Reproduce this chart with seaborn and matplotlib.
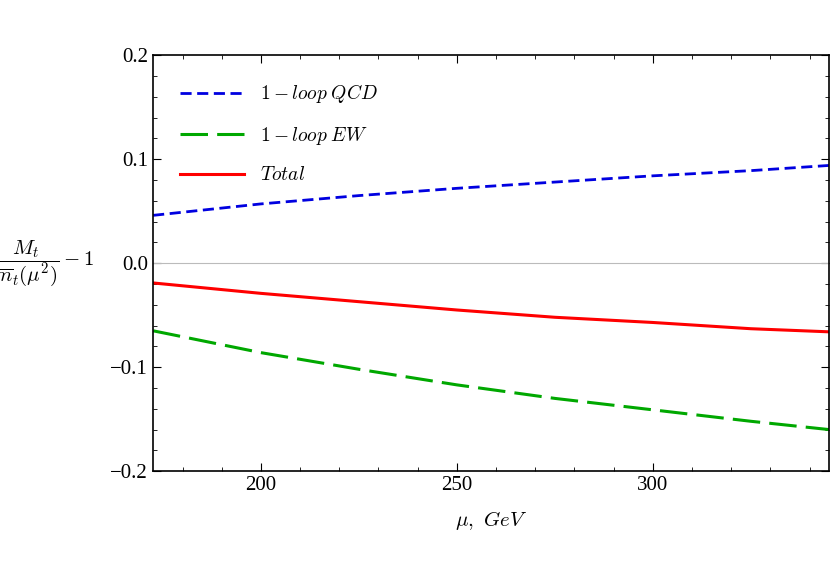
import numpy as np
import pandas as pd
import matplotlib
matplotlib.use("Agg")
import matplotlib.pyplot as plt
import seaborn as sns
from matplotlib.ticker import MultipleLocator

plt.rcParams["mathtext.fontset"] = "cm"
plt.rcParams["font.family"] = "Liberation Serif"

mu = [172.5, 200, 225, 250, 275, 300, 325, 345]
qcd = [0.046, 0.057, 0.065, 0.072, 0.078, 0.084, 0.089, 0.094]
ew = [-0.065, -0.086, -0.102, -0.117, -0.130, -0.141, -0.152, -0.160]
total = [-0.019, -0.029, -0.037, -0.045, -0.052, -0.057, -0.063, -0.066]

df = pd.DataFrame({"mu": mu, "qcd": qcd, "ew": ew, "total": total})

fig = plt.figure(figsize=(8.3, 5.81), dpi=100)
ax = fig.add_axes([0.184, 0.189, 0.815, 0.716])

ax.axhline(0, color="#bbbbbb", lw=0.8)
sns.lineplot(data=df, x="mu", y="qcd", ax=ax, color="#0000e0", lw=2,
             label=r"$1-loop\;QCD$").lines[-1].set_dashes([4, 2])
sns.lineplot(data=df, x="mu", y="ew", ax=ax, color="#00a800", lw=2.2,
             label=r"$1-loop\;EW$").lines[-1].set_dashes([9, 3])
sns.lineplot(data=df, x="mu", y="total", ax=ax, color="#ff0000", lw=2.2,
             label=r"$Total$")

ax.set_xlim(172.4, 345)
ax.set_ylim(-0.2, 0.2)
ax.set_xticks([200, 250, 300])
ax.set_yticks([-0.2, -0.1, 0.0, 0.1, 0.2])
ax.set_yticklabels(["\u22120.2", "\u22120.1", "0.0", "0.1", "0.2"])
ax.xaxis.set_minor_locator(MultipleLocator(10))
ax.yaxis.set_minor_locator(MultipleLocator(0.02))
ax.tick_params(which="both", direction="in", top=True, right=True, labelsize=15)
ax.tick_params(which="major", length=6)
ax.tick_params(which="minor", length=3)
for s in ax.spines.values():
    s.set_linewidth(1.2)

ax.set_xlabel(r"$\mu,\ GeV$", fontsize=15, labelpad=10)
ax.set_ylabel(r"$\dfrac{M_t}{\overline{m}_t(\mu^2)}-1$", fontsize=15,
              rotation=0, labelpad=48, va="center")

leg = ax.legend(loc="upper left", frameon=False, fontsize=14,
                handlelength=3.3, labelspacing=1.0, borderaxespad=1.0)
leg.get_lines()[0].set_dashes([4, 2])
leg.get_lines()[1].set_dashes([9, 3])

fig.savefig("out.png", dpi=100)
